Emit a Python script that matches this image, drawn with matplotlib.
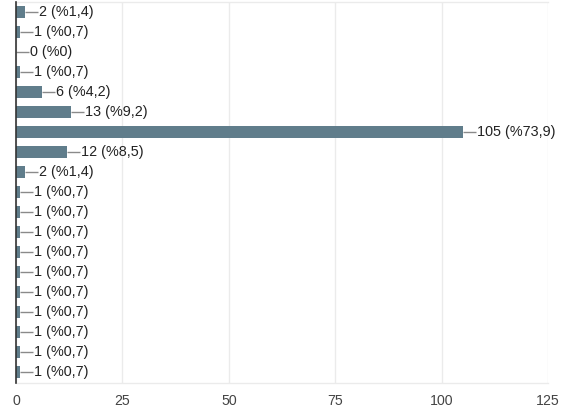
import matplotlib
matplotlib.use("Agg")
import matplotlib.pyplot as plt

plt.rcParams['font.family'] = ['Liberation Sans', 'DejaVu Sans']

# counts per answer, top to bottom
counts = [2, 1, 0, 1, 6, 13, 105, 12, 2, 1, 1, 1, 1, 1, 1, 1, 1, 1, 1]
percent_labels = ["%1,4", "%0,7", "%0", "%0,7", "%4,2", "%9,2", "%73,9", "%8,5",
                  "%1,4", "%0,7", "%0,7", "%0,7", "%0,7", "%0,7", "%0,7", "%0,7",
                  "%0,7", "%0,7", "%0,7"]
x_ticks = [0, 25, 50, 75, 100, 125]

bar_color = "#607d8b"
grid_color = "#ebebeb"

fig = plt.figure(figsize=(5.64, 4.12), dpi=100)
ax = fig.add_axes([16 / 564, 1 - 382.5 / 412, 532 / 564, 381 / 412])

ypos = list(range(len(counts)))
ax.barh(ypos, counts, height=0.6, color=bar_color, zorder=3)

px_per_unit = 532 / 125
for y, c, p in zip(ypos, counts, percent_labels):
    lead = 13 / px_per_unit
    ax.plot([c, c + lead], [y, y], color="#8a8a8a", lw=1, zorder=2,
            solid_capstyle="butt")
    ax.text(c + lead + 1 / px_per_unit, y, f"{c} ({p})", va="center", ha="left",
            fontsize=10.4, color="#222222", zorder=4)

ax.set_xlim(0, 125)
ax.set_ylim(len(counts) - 0.5, -0.5)
ax.set_xticks(x_ticks)
ax.set_yticks([])
ax.xaxis.grid(True, color=grid_color, lw=1, zorder=0)
ax.tick_params(axis="x", length=0, pad=8, labelsize=10.2, labelcolor="#444444")

for side in ["top", "right", "bottom"]:
    ax.spines[side].set_color(grid_color)
    ax.spines[side].set_linewidth(1)
ax.spines["right"].set_visible(False)
ax.spines["left"].set_color("#333333")
ax.spines["left"].set_linewidth(1.2)
ax.spines["left"].set_zorder(5)

fig.savefig("out.png", dpi=100)
